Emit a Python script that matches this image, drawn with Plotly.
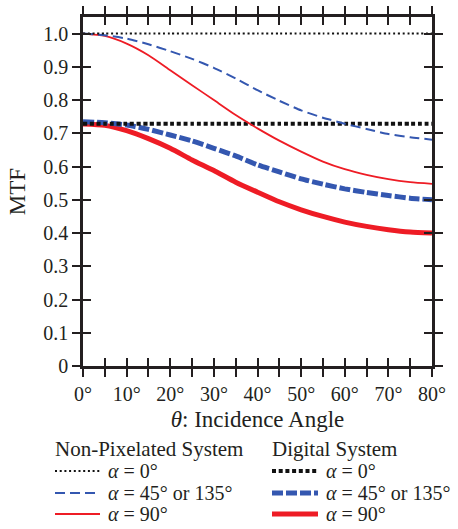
import plotly.graph_objects as go

theta = [0, 5, 10, 15, 20, 25, 30, 35, 40, 45, 50, 55, 60, 65, 70, 75, 80]

# Non-pixelated system
np_a0 = [1.0] * 17
np_a45 = [1.0, 0.995, 0.985, 0.968, 0.947, 0.924, 0.897, 0.865, 0.830, 0.798, 0.769, 0.747, 0.729, 0.713, 0.698, 0.688, 0.681]
np_a90 = [1.0, 0.993, 0.97, 0.935, 0.89, 0.845, 0.80, 0.755, 0.715, 0.678, 0.645, 0.615, 0.592, 0.575, 0.562, 0.553, 0.548]

# Digital system
dg_a0 = [0.729] * 17
dg_a45 = [0.735, 0.732, 0.725, 0.712, 0.695, 0.677, 0.655, 0.632, 0.605, 0.584, 0.563, 0.547, 0.533, 0.522, 0.513, 0.505, 0.50]
dg_a90 = [0.728, 0.724, 0.708, 0.684, 0.655, 0.62, 0.588, 0.553, 0.523, 0.494, 0.47, 0.45, 0.433, 0.42, 0.41, 0.403, 0.40]

x_tickvals = [0, 10, 20, 30, 40, 50, 60, 70, 80]
x_ticktext = ["0°", "10°", "20°", "30°", "40°", "50°", "60°", "70°", "80°"]
y_tickvals = [0, 0.1, 0.2, 0.3, 0.4, 0.5, 0.6, 0.7, 0.8, 0.9, 1.0]
y_ticktext = ["0", "0.1", "0.2", "0.3", "0.4", "0.5", "0.6", "0.7", "0.8", "0.9", "1.0"]

legend_headers = ["Non-Pixelated System", "Digital System"]
legend_labels = ["<i>α</i> = 0°", "<i>α</i> = 45° or 135°", "<i>α</i> = 90°"]

RED = "#ee1c25"
BLUE = "#3457b0"
BLACK = "#111111"
AX = "#231f20"
FONT = "Liberation Serif"

W, H = 458, 529
ML, MR, MT, MB = 83, 26, 17, 163
PW, PH = W - ML - MR, H - MT - MB

def px2x(px):
    return (px - ML) / PW

def px2y(py):
    return (H - MB - py) / PH

# style per series: (color, width, dash)
styles_np = [(BLACK, 2, "2px,2.7px"), (BLUE, 2, "10px,5px"), (RED, 1.8, "solid")]
styles_dg = [(BLACK, 4, "4px,2.7px"), (BLUE, 5, "11px,3px"), (RED, 5, "solid")]

fig = go.Figure()

def add(y, style):
    color, width, dash = style
    fig.add_trace(go.Scatter(
        x=theta, y=y, mode="lines", showlegend=False,
        line=dict(color=color, width=width, dash=dash, shape="spline", smoothing=0.6),
    ))

add(dg_a90, styles_dg[2])
add(dg_a45, styles_dg[1])
add(dg_a0, styles_dg[0])
add(np_a90, styles_np[2])
add(np_a45, styles_np[1])
add(np_a0, styles_np[0])

# helper overlay axes for crossing ticks
fig.add_trace(go.Scatter(x=[], y=[], xaxis="x2", yaxis="y2", showlegend=False))

common_x = dict(range=[0, 80], showgrid=False, zeroline=False, showline=True,
                linecolor=AX, linewidth=2.5, mirror="ticks", tickcolor=AX, tickwidth=2, ticklen=8,
                tickmode="array", tickvals=[0, 5, 10, 15, 20, 25, 30, 35, 40, 45, 50, 55, 60, 65, 70, 75, 80])
common_y = dict(range=[0, 1.05], showgrid=False, zeroline=False, showline=True,
                linecolor=AX, linewidth=2.5, mirror="ticks", tickcolor=AX, tickwidth=2, ticklen=8,
                tickmode="array", tickvals=y_tickvals)

# manual legend (two columns with headers)
shapes = []
annotations = []
cols = [(55, 100, 106, styles_np), (272, 318, 324, styles_dg)]
header_y = 449
row_y = [471, 493, 514]
for ci, (x0, x1, xt, sty) in enumerate(cols):
    annotations.append(dict(xref="paper", yref="paper", x=px2x(x0 - 2), y=px2y(header_y),
                            xanchor="left", yanchor="middle", showarrow=False,
                            text=legend_headers[ci], font=dict(size=21)))
    for ri in range(3):
        color, width, dash = sty[ri]
        shapes.append(dict(type="line", xref="paper", yref="paper",
                           x0=px2x(x0), x1=px2x(x1), y0=px2y(row_y[ri]), y1=px2y(row_y[ri]),
                           line=dict(color=color, width=width, dash=dash)))
        annotations.append(dict(xref="paper", yref="paper", x=px2x(xt), y=px2y(row_y[ri]),
                                xanchor="left", yanchor="middle", showarrow=False,
                                text=legend_labels[ri], font=dict(size=20)))

fig.update_layout(
    width=W, height=H,
    margin=dict(l=ML, r=MR, t=MT, b=MB, autoexpand=False),
    paper_bgcolor="white", plot_bgcolor="white",
    font=dict(family=FONT, size=20, color="#231f20"),
    xaxis=dict(**{**common_x, "tickvals": x_tickvals}, ticktext=x_ticktext, ticks="outside",
               minor=dict(dtick=5, ticks="outside", ticklen=8, tickwidth=2, tickcolor=AX),
               title=dict(text="<i>θ</i>: Incidence Angle", font=dict(size=23), standoff=8),
               tickfont=dict(size=20)),
    yaxis=dict(**common_y, ticktext=y_ticktext, ticks="outside",
               title=dict(text="MTF", font=dict(size=23), standoff=12),
               tickfont=dict(size=20)),
    xaxis2=dict(**common_x, overlaying="x", anchor="y2", ticks="inside", showticklabels=False),
    yaxis2=dict(**common_y, overlaying="y", anchor="x2", ticks="inside", showticklabels=False),
    shapes=shapes,
    annotations=annotations,
    showlegend=False,
)

fig.write_html("out.html")
